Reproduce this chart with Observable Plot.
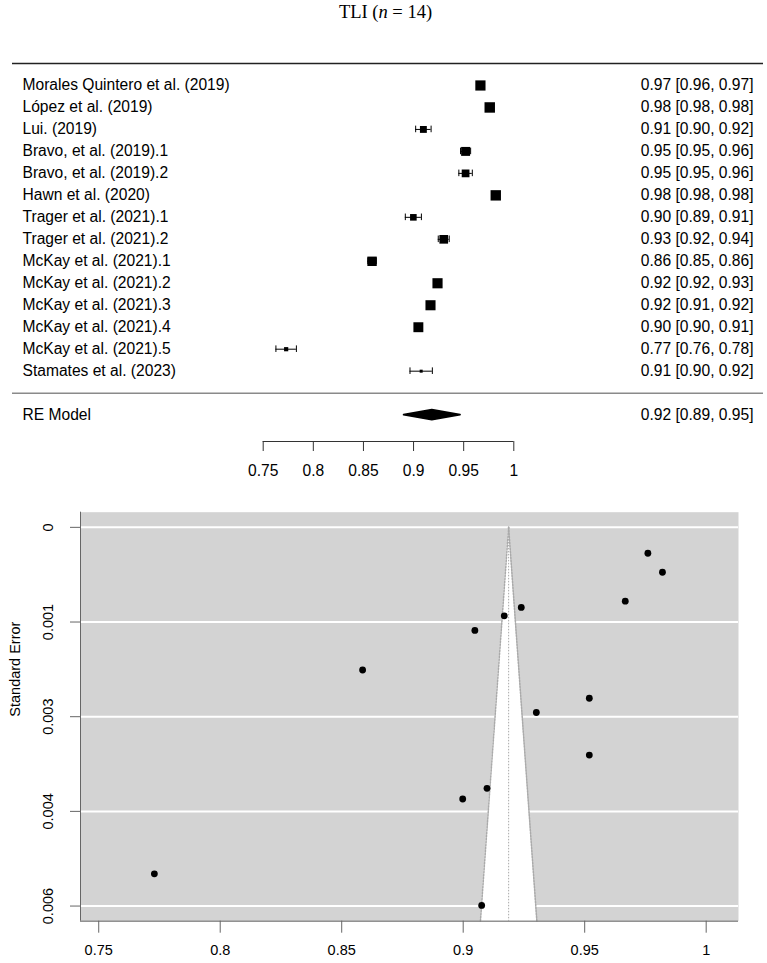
<!DOCTYPE html>
<html>
<head>
<meta charset="utf-8">
<script src="https://cdn.jsdelivr.net/npm/d3@7"></script>
<script src="https://cdn.jsdelivr.net/npm/@observablehq/plot@0.6"></script>
<style>
  html, body { margin: 0; padding: 0; background: #fff; }
  #page { position: relative; width: 767px; height: 963px; overflow: hidden; }
  #title {
    position: absolute; left: 0; top: 3px; width: 767px;
    padding-left: 4px; box-sizing: border-box; text-align: center;
    font-family: "Liberation Serif", "Times New Roman", serif;
    font-size: 18.5px; line-height: 18.5px; color: #000;
  }
  #forest { position: absolute; left: 0; top: 40px; }
  #funnel { position: absolute; left: 0; top: 490px; }
  svg { display: block; }
</style>
</head>
<body>
<div id="page">
  <div id="title">TLI (<i>n</i> = 14)</div>
  <div id="forest"></div>
  <div id="funnel"></div>
</div>
<script>
// Study labels, effect estimates (TLI) and their standard errors
const studies = [
  "Morales Quintero et al. (2019)",
  "López et al. (2019)",
  "Lui. (2019)",
  "Bravo, et al. (2019).1",
  "Bravo, et al. (2019).2",
  "Hawn et al. (2020)",
  "Trager et al. (2021).1",
  "Trager et al. (2021).2",
  "McKay et al. (2021).1",
  "McKay et al. (2021).2",
  "McKay et al. (2021).3",
  "McKay et al. (2021).4",
  "McKay et al. (2021).5",
  "Stamates et al. (2023)"
];
const estimates = [0.9667, 0.9760, 0.9098, 0.9519, 0.9519, 0.9820, 0.8998,
                   0.9301, 0.8586, 0.9239, 0.9169, 0.9048, 0.7729, 0.9076];
const standardErrors = [0.001111, 0.000390, 0.003928, 0.002572, 0.003428, 0.000676, 0.004089,
                        0.002787, 0.002147, 0.001206, 0.001331, 0.001551, 0.005215, 0.005690];

// Random-effects summary
const reLabel = "RE Model";
const reEstimate = 0.9187;
const reLower = 0.8905;
const reUpper = 0.9469;
const tau2 = 0.0021; // between-study variance used for the RE weights

// Axis ticks
const xTicks = [0.75, 0.8, 0.85, 0.9, 0.95, 1];
const xTickLabels = ["0.75", "0.8", "0.85", "0.9", "0.95", "1"];
const seTicks = [0, 0.001425, 0.00285, 0.004275, 0.0057];
const seTickLabels = ["0", "0.001", "0.003", "0.004", "0.006"];

const z = 1.96;
const fmt = d3.format(".2f");

const rows = studies.map((name, i) => {
  const est = estimates[i], se = standardErrors[i];
  const lo = est - z * se, hi = est + z * se;
  return {
    name, est, se, lo, hi,
    row: studies.length - i,
    weight: 1 / (se * se + tau2),
    label: `${fmt(est)} [${fmt(lo)}, ${fmt(hi)}]`
  };
});

const reRow = -1;
const summary = [{name: reLabel, row: reRow, label: `${fmt(reEstimate)} [${fmt(reLower)}, ${fmt(reUpper)}]`}];

// ---------- Forest plot ----------
const topRow = studies.length + 1;
const axisRow = -2.2;
const capHalf = 0.15;
const diamondHalf = 0.23;
const diamond = [
  {x: reLower, y1: reRow, y2: reRow},
  {x: reEstimate, y1: reRow - diamondHalf, y2: reRow + diamondHalf},
  {x: reUpper, y1: reRow, y2: reRow}
];
const xLabel = d => xTickLabels[xTicks.indexOf(d)];

const forest = Plot.plot({
  width: 767,
  height: 450,
  marginLeft: 12,
  marginRight: 4,
  marginTop: 23,
  marginBottom: 49,
  style: {fontFamily: "'Liberation Sans', Arial, sans-serif", fontSize: "15.6px", color: "#000", background: "transparent"},
  x: {domain: [0.75, 1], range: [262.7, 513.3]},
  y: {domain: [axisRow, topRow], axis: null},
  r: {type: "linear", domain: d3.extent(rows, d => d.weight), range: [1.7, 5.9]},
  marks: [
    Plot.ruleY([topRow], {stroke: "#222", strokeWidth: 1.5}),
    Plot.ruleY([0], {stroke: "#8a8a8a", strokeWidth: 1.5}),
    Plot.ruleY(rows, {y: "row", x1: "lo", x2: "hi", stroke: "#000", strokeWidth: 1}),
    Plot.ruleX(rows, {x: "lo", y1: d => d.row - capHalf, y2: d => d.row + capHalf, stroke: "#000"}),
    Plot.ruleX(rows, {x: "hi", y1: d => d.row - capHalf, y2: d => d.row + capHalf, stroke: "#000"}),
    Plot.dot(rows, {x: "est", y: "row", r: "weight", symbol: "square", fill: "#000"}),
    Plot.areaY(diamond, {x: "x", y1: "y1", y2: "y2", fill: "#000", stroke: "#000", strokeWidth: 1.6, strokeLinejoin: "round"}),
    Plot.text(rows.concat(summary), {y: "row", text: "name", frameAnchor: "left", dx: 10, textAnchor: "start"}),
    Plot.text(rows.concat(summary), {y: "row", text: "label", frameAnchor: "right", dx: -10, textAnchor: "end"}),
    Plot.ruleY([axisRow], {x1: xTicks[0], x2: xTicks[xTicks.length - 1], stroke: "#333"}),
    Plot.axisX({ticks: xTicks, tickFormat: xLabel, tickSize: 10, tickPadding: 13, label: null, stroke: "#333"})
  ]
});
document.getElementById("forest").append(forest);

// ---------- Funnel plot ----------
const xDomain = [0.7425, 1.0133];
const seDomain = [-0.000228, 0.005928];
const funnelBottom = seDomain[1];
const funnelRegion = [
  {se: 0, x1: reEstimate, x2: reEstimate},
  {se: funnelBottom, x1: reEstimate - z * funnelBottom, x2: reEstimate + z * funnelBottom}
];

const funnel = Plot.plot({
  width: 767,
  height: 473,
  marginLeft: 80,
  marginRight: 29,
  marginTop: 21.7,
  marginBottom: 42.3,
  style: {fontFamily: "'Liberation Sans', Arial, sans-serif", fontSize: "14.5px", color: "#000", background: "transparent"},
  x: {domain: xDomain},
  y: {domain: seDomain, reverse: true},
  marks: [
    Plot.frame({fill: "#d3d3d3", stroke: "none"}),
    Plot.ruleY(seTicks, {stroke: "#fff", strokeWidth: 2}),
    Plot.areaX(funnelRegion, {y: "se", x1: "x1", x2: "x2", fill: "#fff"}),
    Plot.line(funnelRegion, {x: "x1", y: "se", stroke: "#aaa", strokeDasharray: "1.5,1.5"}),
    Plot.line(funnelRegion, {x: "x2", y: "se", stroke: "#aaa", strokeDasharray: "1.5,1.5"}),
    Plot.ruleX([reEstimate], {y1: 0, y2: funnelBottom, stroke: "#aaa", strokeDasharray: "1.5,1.5"}),
    Plot.dot(rows, {x: "est", y: "se", r: 3.4, fill: "#000"}),
    Plot.ruleX([xDomain[0]], {stroke: "#666"}),
    Plot.ruleY([seDomain[1]], {stroke: "#666"}),
    Plot.axisY({ticks: seTicks, tickFormat: d => seTickLabels[seTicks.indexOf(d)], tickRotate: -90, tickSize: 10, tickPadding: 18, label: null, stroke: "#666"}),
    Plot.axisX({ticks: xTicks, tickFormat: xLabel, tickSize: 12, tickPadding: 12, label: null, stroke: "#666"}),
    Plot.text(["Standard Error"], {text: d => d, frameAnchor: "left", dx: -65, rotate: -90})
  ]
});
document.getElementById("funnel").append(funnel);
</script>
</body>
</html>
